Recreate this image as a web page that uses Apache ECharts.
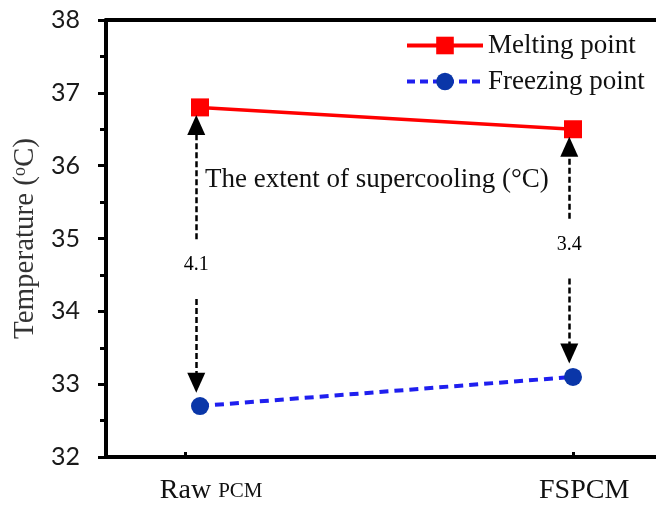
<!DOCTYPE html>
<html>
<head>
<meta charset="utf-8">
<script src="https://cdn.jsdelivr.net/npm/echarts@6/dist/echarts.min.js"></script>
<style>
  html, body { margin: 0; padding: 0; background: #fff; }
  #main { width: 656px; height: 507px; }
</style>
</head>
<body>
<div id="main"></div>
<script>
// data
var categories = ['Raw PCM', 'FSPCM'];
var meltingPoint = [36.8, 36.5];
var freezingPoint = [32.7, 33.1];
// where the supercooling numbers sit on the y axis
var labelY = [34.64, 34.92];

var yTicks = [32, 33, 34, 35, 36, 37, 38];

var serif = '"Liberation Serif", "Times New Roman", serif';

var chart = echarts.init(document.getElementById('main'));

var melt = categories.map(function (c, i) { return [i, meltingPoint[i]]; });
var freeze = categories.map(function (c, i) { return [i, freezingPoint[i]]; });

// arrows: from around the label up to the melting point, and down to the freezing point
// (the arrow head is centred on the end point, so stop a bit short of the markers)
var arrowLines = [];
var valueLabels = [];
categories.forEach(function (c, i) {
    var ax = i - 0.01;
    arrowLines.push([{ coord: [ax, labelY[i] + 0.35] }, { coord: [ax, meltingPoint[i] - 0.24] }]);
    arrowLines.push([{ coord: [ax, labelY[i] - 0.47] }, { coord: [ax, freezingPoint[i] + 0.32] }]);
    valueLabels.push({ value: [ax, labelY[i]], diff: (meltingPoint[i] - freezingPoint[i]).toFixed(1) });
});

chart.setOption({
    animation: false,
    grid: {
        left: 106,
        right: 0,
        top: 20,
        bottom: 50
    },
    legend: {
        orient: 'vertical',
        left: 400,
        top: 27,
        itemWidth: 76,
        itemHeight: 22,
        itemGap: 9,
        textStyle: { fontFamily: serif, fontSize: 27, lineHeight: 27, color: '#111' },
        data: [{
            name: 'Melting point',
            lineStyle: { width: 4 }
        }, {
            name: 'Freezing point',
            lineStyle: { width: 4, type: [8, 5] }
        }]
    },
    xAxis: [{
        type: 'value',
        min: -0.252,
        max: 1.2225,
        splitLine: { show: false },
        axisLine: { onZero: false, lineStyle: { color: '#000', width: 4 } },
        axisTick: {
            inside: true,
            length: 5,
            lineStyle: { color: '#000', width: 3 },
            customValues: [-0.04, 1]
        },
        axisLabel: {
            margin: 20,
            customValues: [0.03, 1.03],
            formatter: function (v) {
                var name = categories[Math.round(v)];
                if (name === 'Raw PCM') return '{a|Raw }{b|PCM}';
                return '{a|' + name + '}';
            },
            rich: {
                a: { fontFamily: serif, fontSize: 28, color: '#111' },
                b: { fontFamily: serif, fontSize: 21, color: '#111' }
            }
        }
    }, {
        // top frame line only
        type: 'value',
        position: 'top',
        min: -0.252,
        max: 1.2225,
        splitLine: { show: false },
        axisLine: { show: true, onZero: false, lineStyle: { color: '#000', width: 4 } },
        axisTick: { show: false },
        axisLabel: { show: false }
    }],
    yAxis: {
        type: 'value',
        min: 32,
        max: 38,
        interval: 1,
        splitLine: { show: false },
        axisLine: { show: true, onZero: false, lineStyle: { color: '#000', width: 4 } },
        axisTick: { length: 8, lineStyle: { color: '#000', width: 3 } },
        minorTick: { show: true, splitNumber: 2, length: 6, lineStyle: { color: '#000', width: 3 } },
        axisLabel: {
            margin: 26,
            fontFamily: 'Lato, "Open Sans", sans-serif',
            fontSize: 25,
            color: '#1a1a1a',
            formatter: function (v) { return yTicks.indexOf(v) >= 0 ? String(v) : ''; }
        },
        name: '{a|Temperature (}{s|o}{a|C)}',
        nameLocation: 'middle',
        nameGap: 63,
        nameTextStyle: {
            rich: {
                a: { fontFamily: serif, fontSize: 29, color: '#333' },
                s: { fontFamily: serif, fontSize: 18, color: '#333', verticalAlign: 'top', padding: [0, 0, 10, 0] }
            }
        }
    },
    graphic: [{
        type: 'text',
        left: 205,
        top: 166,
        style: {
            text: 'The extent of supercooling (\u00b0C)',
            font: '27px ' + serif,
            fill: '#111'
        }
    }],
    series: [{
        name: 'Melting point',
        type: 'line',
        data: melt,
        symbol: 'rect',
        symbolSize: 18,
        lineStyle: { color: '#ff0000', width: 3.5 },
        itemStyle: { color: '#ff0000' },
        z: 3
    }, {
        name: 'Freezing point',
        type: 'line',
        data: freeze,
        symbol: 'circle',
        symbolSize: 18,
        lineStyle: { color: '#1f1fef', width: 4, type: [9, 6] },
        itemStyle: { color: '#0a36a8' },
        z: 3
    }, {
        name: 'supercooling',
        type: 'scatter',
        data: valueLabels,
        symbol: 'circle',
        symbolSize: 1,
        itemStyle: { color: 'rgba(0,0,0,0)' },
        silent: true,
        label: {
            show: true,
            position: 'inside',
            formatter: function (p) { return p.data.diff; },
            fontFamily: serif,
            fontSize: 20,
            color: '#000',
            textBorderWidth: 0,
            opacity: 1
        },
        markLine: {
            silent: true,
            symbol: ['none', 'triangle'],
            symbolSize: [18, 20],
            label: { show: false },
            lineStyle: { color: '#000', width: 2.5, type: [6, 3] },
            data: arrowLines
        },
        z: 2
    }]
});
</script>
</body>
</html>
